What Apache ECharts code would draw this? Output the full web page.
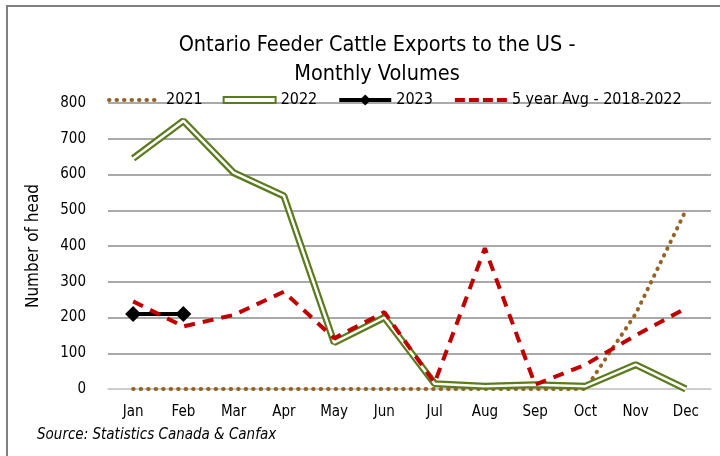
<!DOCTYPE html>
<html>
<head>
<meta charset="utf-8">
<script src="https://cdn.jsdelivr.net/npm/echarts@6/dist/echarts.min.js"></script>
<style>
    html, body { margin: 0; padding: 0; background: #fff; }
    #chart { width: 720px; height: 456px; }
</style>
</head>
<body>
<div id="chart"></div>
<script>
    // 月份
    const months = ['Jan','Feb','Mar','Apr','May','Jun','Jul','Aug','Sep','Oct','Nov','Dec'];
    // 各年数据
    const data2021 = [0,0,0,0,0,0,0,0,0,0,210,500];
    const data2022 = [645,750,605,540,130,200,15,8,12,8,68,0];
    const data2023 = [210,210];
    const dataAvg = [245,175,207,272,142,215,17,394,12,68,150,226];
    const yTicks = [0,100,200,300,400,500,600,700,800];

    const fontName = "'Liberation Sans Narrow', 'DejaVu Sans Condensed', sans-serif";
    const olive = '#5b7b1e';

    const chart = echarts.init(document.getElementById('chart'));
    chart.setOption({
        animation: false,
        textStyle: { fontFamily: fontName },
        title: {
            text: 'Ontario Feeder Cattle Exports to the US -\nMonthly Volumes',
            left: 372,
            textAlign: 'center',
            top: 26,
            textStyle: { fontSize: 21.5, fontWeight: 'normal', color: '#000', lineHeight: 29, fontFamily: fontName }
        },
        graphic: [{
            type: 'rect',
            shape: { x: 7, y: 6, width: 760, height: 500 },
            style: { fill: 'none', stroke: '#7f7f7f', lineWidth: 2 },
            silent: true
        }, {
            type: 'text',
            left: 37,
            top: 428,
            style: { text: 'Source: Statistics Canada & Canfax', fontSize: 15, fontStyle: 'italic', fontFamily: fontName, fill: '#000' }
        }],
        legend: {
            left: 102,
            top: 87,
            itemWidth: 52,
            itemHeight: 14,
            itemGap: 20,
            textStyle: { fontSize: 16, color: '#000', fontFamily: fontName },
            data: [
                { name: '2021', itemStyle: { opacity: 0 }, lineStyle: { width: 4, type: [0.5, 7], cap: 'round' } },
                { name: '2022', icon: 'path://M0,0 h52 v6 h-52 z', itemStyle: { color: '#fff', borderColor: olive, borderWidth: 2 } },
                { name: '2023', itemStyle: { color: '#000' }, lineStyle: { width: 4 } },
                { name: '5 year Avg - 2018-2022', itemStyle: { opacity: 0 }, lineStyle: { width: 4, type: [10, 4] } }
            ]
        },
        grid: { left: 108, right: 9, top: 103, bottom: 67 },
        xAxis: {
            type: 'category',
            data: months,
            axisLine: { lineStyle: { color: '#d9d9d9', width: 1.5 } },
            axisTick: { show: false },
            axisLabel: { color: '#000', fontSize: 15, margin: 16, fontFamily: fontName }
        },
        yAxis: {
            type: 'value',
            min: yTicks[0],
            max: yTicks[yTicks.length - 1],
            interval: 100,
            name: 'Number of head',
            nameLocation: 'middle',
            nameGap: 66,
            nameTextStyle: { fontSize: 17, color: '#000', fontFamily: fontName },
            axisLabel: { color: '#000', fontSize: 15, margin: 22, fontFamily: fontName },
            splitLine: { lineStyle: { color: '#8c8c8c', width: 1.5 } }
        },
        series: [
            {
                name: '2021',
                type: 'line',
                data: data2021,
                symbol: 'none',
                itemStyle: { color: '#936426' },
                lineStyle: { color: '#936426', width: 4, type: [0.5, 7], cap: 'round' },
                z: 3
            },
            {
                name: '2022',
                type: 'line',
                data: data2022,
                symbol: 'none',
                itemStyle: { color: olive },
                lineStyle: { color: olive, width: 7 },
                z: 4
            },
            {
                name: '2022-inner',
                type: 'line',
                data: data2022,
                symbol: 'none',
                lineStyle: { color: '#fff', width: 2.5 },
                z: 5
            },
            {
                name: '2023',
                type: 'line',
                data: data2023,
                symbol: 'diamond',
                symbolSize: 16,
                itemStyle: { color: '#000' },
                lineStyle: { color: '#000', width: 4 },
                z: 6
            },
            {
                name: '5 year Avg - 2018-2022',
                type: 'line',
                data: dataAvg,
                symbol: 'none',
                itemStyle: { color: '#c00000' },
                lineStyle: { color: '#c00000', width: 4, type: [11, 8] },
                z: 7
            }
        ]
    });
</script>
</body>
</html>
